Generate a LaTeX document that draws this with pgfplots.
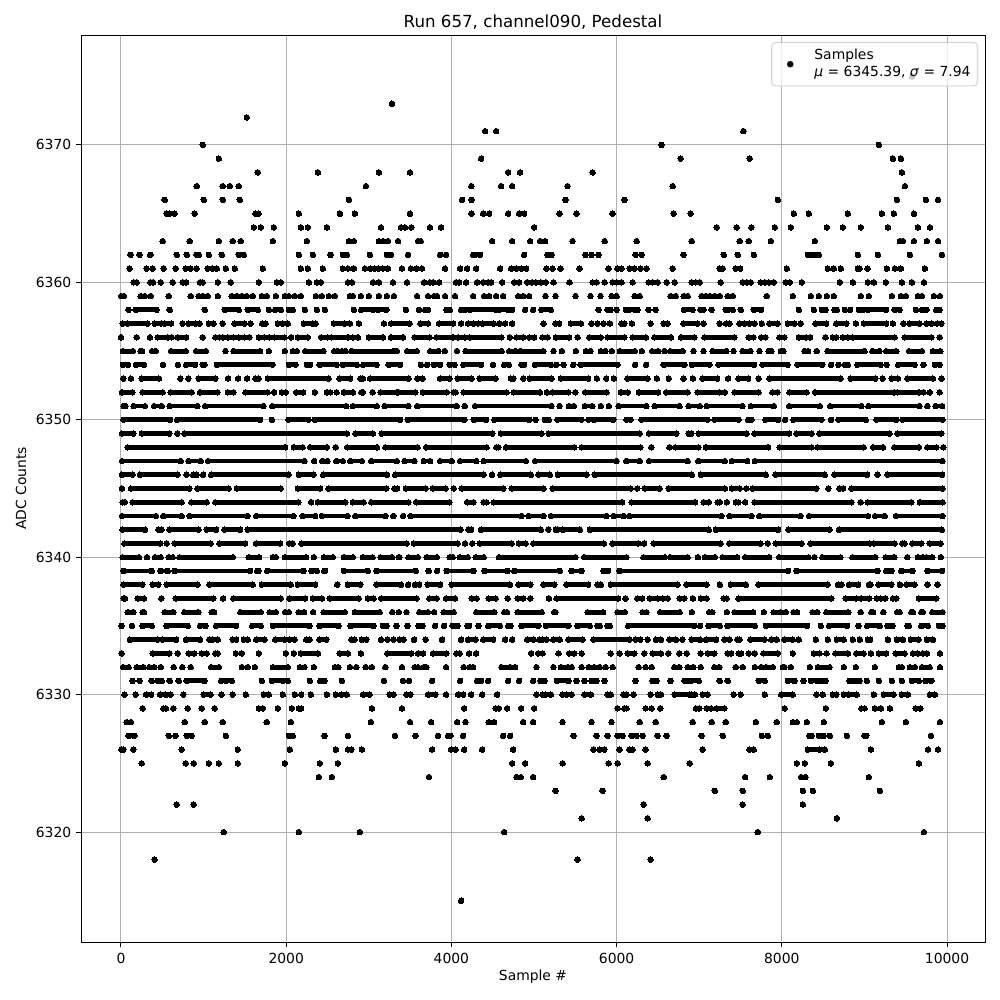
\documentclass[border=0pt]{standalone}
\usepackage{pgfplots}
\pgfplotsset{compat=1.18}
\usepackage{fontspec}
\setmainfont{DejaVu Sans}
\definecolor{gridc}{HTML}{B0B0B0}
\pgfplotsset{pt/.style={black,line width=3.5pt,line cap=round,mark=*,mark size=2pt,mark options={solid,line width=0pt,fill=black,draw=black},unbounded coords=jump}}
\newcommand\R[2]{\gdef\rowc{}\foreach \xa/\xb in {#2}{\xdef\rowc{\rowc(\xa,#1)(\xb,#1)(\xb,nan)}}\edef\tmp{\noexpand\addplot[pt,forget plot] coordinates {\rowc};}\tmp}
\begin{document}
\begin{tikzpicture}
\useasboundingbox (-58.32pt,-41.76pt) rectangle (661.68pt,678.24pt);
\begin{axis}[
  at={(0,0)},anchor=south west,
  scale only axis,width=650.88pt,height=653.04pt,
  xmin=-484,xmax=10460,ymin=6312,ymax=6378,
  xtick={0,2000,4000,6000,8000,10000},
  ytick={6320,6330,6340,6350,6360,6370},
  scaled x ticks=false,scaled y ticks=false,
  xtick pos=bottom,ytick pos=left,tick align=outside,
  major tick length=3.5pt,
  tick style={black,line width=0.7pt},
  axis line style={black,line width=0.7pt},
  grid=major,grid style={gridc,line width=0.7pt},
  /pgf/number format/assume math mode=true,
  /pgf/number format/.cd,1000 sep={},/pgfplots/.cd,
  xticklabel style={yshift=-1pt},
  title={Run 657, channel090, Pedestal},
  every axis title/.style={at={(axis description cs:0.5,1.0143)},anchor=center,font=\fontsize{12}{14}\selectfont},
  xlabel={Sample \#},ylabel={ADC Counts},
  every axis x label/.style={at={(axis description cs:0.5,-0.0386)},anchor=center},
  every axis y label/.style={at={(axis description cs:-0.0664,0.5)},anchor=center,rotate=90},
  legend cell align=left,
  legend image code/.code={\path[draw=none,fill=none] (0pt,0pt) -- (25.7pt,0pt);\fill[black,fill opacity=1] (10.3pt,0pt) circle (2pt);},
  legend style={at={(0.9923,0.9923)},anchor=north east,draw=black!20,line width=0.8pt,rounded corners=2.5pt,fill=white,fill opacity=0.8,draw opacity=0.8,text opacity=1,inner xsep=3pt,inner ysep=2pt},
]
\addplot[only marks,black,mark=*,mark size=2pt,mark options={line width=0pt,fill=black}] coordinates {(9576,6375)};
\addlegendentry{\begin{tabular}{@{}l@{}}Samples\\\textit{μ} = 6345.39, \textit{σ} = 7.94\rule[-18pt]{0pt}{9pt}\end{tabular}}
\R{6373}{3281}
\R{6372}{1523}
\R{6371}{4408,4541,7535}
\R{6370}{990,6545,9176}
\R{6369}{1184,4360,6776,7612,9345,9442}
\R{6368}{1656,2384,3123,3499,4687,4832,5709,9454}
\R{6367}{917,1232,1317,1426,2966,4242,4602,4735,5406,6679,9491}
\R{6366}{529,1002,1232,1438,2760,4129,4242,5382,6097,7952,9394,9745,9891}
\R{6365}{553,586,650,893,1628,1664,2153,2651,2832,3499,4242,4384,4457,4687,4820,4881,5309,5515,5952,6691,6897,8145,8327,8800,9212,9357,9600}
\R{6364}{1608,1693,1850,2178,2262,2493,3148,3390,3438,3515,3741,3875,5002,7212,7454,7632,7915,8109,8545,8739,8957,9285,9648,9794}
\R{6363}{505,832,1184,1353,1450,1838,2250,2760,2820,3123,3172,3232,3354,3596,3628,4493,4735,4953,5075,5135,5467,5855,6242,6909,7491,7600,7867,8400,9430,9467,9600,9757,9891}
\R{6362}{117,226,355,675,796,917,941,1063,1220,1426,1487,2153,2323,2537,2687,2735,3014,3220,3269,3475,3863,3935,4263,4287,4347,4881,5164,5212,5624,5697,5782,6230,6303,6812,7297,7467,7661,8315,8355,8400,8448,8921,9164,9551,9939}
\R{6361}{105,311,384,517,663,784,844,917,1050,1111,1160,1269,1378,1717,2178,2262,2444,2687,2748,2820,2954,3026,3070,3120,3172,3232,3402,3511,3572,3644,3923,4105,4190,4299,4590,4723,4788,4844,4905,5152,5224,5321,5552,5903,6012,6060,6158,6218,6291,6364,6679,7248,7285,7442,7495,8061,8557,8630,8715,8921,8941,9038,9273,9370,9442,9733}
\R{6360}{153,190,355,388,481,626,747,788,957,990,1172,1329,1669,1887,1935,2275,2371,2420,2748,2796,3051,3123,3293,3463,3669,3741,3778,3851,4057,4093,4178,4311,4384,4444,4481,4614,4760,4820,4917,4978,5022,5083,5144,5236,5430,5709,5758,5855,5952,6000,6060,6194,6388,6436,6497,6606,6703,6909,6957,7006,7260,7527,7576,7624,7745,7794,7842,7903,8048,8097,8242,8703,8861,9042,9115,9260,9454,9575,9721}
\R{6359}{4,36,238,287,360,578,844,941,990,1050,1172,1341,1402,1463,1523,1596,1705,1766,1875,1984,2032,2105,2178,2360,2432,2517,2590,2772,2808,2905,3002,3123,3220,3305,3584,3717,3790,3826,3923,4044,4263,4396,4457,4541,4626,4808,4869,4941,5140,5261,5503,5685,5806,5939,6000,6218,6279,6654,6715,6812,6860,7030,7079,7127,7188,7248,7345,7406,7818,8133,8351,8448,8545,8630,8957,9054,9333,9442,9503,9648,9697,9842,9915}
\R{6358}{93,178/432,590,1014,1256/1426,1535/1656,1790,1866,1935,2032/2080,2226,2371,2469,2820,2909/3051,3111/3212,3450,3608,3681/3717,3940/3980,4117/4166,4230/4545,4578/4687,4735,4893,4990,5090/5204,5782,5891/5927,6000,6113/6153,6218/6255,6388,6473,6816/6921,7018/7050,7151,7321/7345,7406,7503,7660/7750,8206,8388,8485/8530,8638/8667,8764,8828,8933/8982,9042/9264,9365/9426,9624,9697/9750,9870/9911}
\R{6357}{20,80/323,408/485,525/606,747,820/900,953,1063/1119,1232,1373/1495,1567,1709/1749,1899,1960/2020,2214/2323,2355,2578/2707,2772,2881,3184,3269/3495,3624/3717,3851/4020,4117,4202,4263/4323,4372/4505,4578,4650,4735,5115,5257/5305,5447/5568,5697,5770,5842,5919,6060/6093,6186,6412,6570/6618,6808/6982,7054,7248,7325/7366,7487/7548,7610,7673,7758,7850/7950,8073/8153,8230,8408/8537,8658/8780,8897,8994/9264,9345,9470,9547/9668,9749/9810,9879/9931}
\R{6356}{0,190,351,444/566,614,687/788,990,1143/1192,1232,1293/1361,1426/1495,1555,1669/1737,1798,1858/1980,2060,2141/2262,2424/2500,2546/2748,2808/2869,3000/3172,3269/3414,3556/3737,3818/4020,4081/4162,4222/4606,4707,4788/4869,4941/5002,5103/5164,5265/5426,5527,5669/5810,5891/6093,6194/6355,6457/6659,6780/6941,7063/7426,7600/7657,7750/7802,7972/8032,8206/8295,8343,8529,8618/8659,8739/8800,8860/9366,9487/9810,9911}
\R{6355}{24/145,238/255,376/420,606/784,909/1026,1265,1361/1685,1790,1984,2081/2129,2230/2452,2580/2620,2675/2720,2790/3297,3315/3340,3464/3581,3742/3843,3919,4068,4173/4608,4701/4778,4838/5112,5237,5338,5507,5628/5685,5810/5866,5942,6039/6221,6305,6432/6503,6579,6650/6800,6932,7053,7162/7331,7416,7525/7621,7730,7840/7875,7988/8020,8274/8318,8423,8552/9003,9096/9181,9265/9386,9540/9697,9829/9918}
\R{6354}{24/85,182/279,509,690,788/897,990/1010,1160/1834,2032/2113,2250/2290,2404/2610,2687/2856,2933/3095,3240/3380,3630,3706,3786/3863,3980/4040,4145/4360,4504,4640/4697,4850/4880,5012/5205,5270,5358,5475,5564/6011,6224,6358,6570/6820,6912/7125,7234/7665,7766/8070,8190/8490,8596,8685,8765/8800,8915/9197,9270,9410/9608,9713,9854/9910}
\R{6353}{28,121,250/460,719,816,941/1143,1297,1418,1527,1628/1665,1778/2513,2646/2775,2897/2929,3015/3480,3590/3650,3863/3980,4077/4246,4343/4536,4721/4750,4870,4947/5213,5326/5656,5761,5874,5967,6132/6374,6487,6632,6810,6924,7040/7218,7350,7476/7593,7720,7851/8713,8834/9132,9221,9330/9406,9520/9830,9934}
\R{6352}{12/137,262/505,602/856,957/1168,1293/1361,1507/1774,1854,1947/1996,2121/2206,2347,2493/2533,2610,2699/2808,2909/2929,3046,3143/3340,3363/3565,3654/3944,4028/4052,4149/4669,4754/5072,5157,5225/5415,5500,5620/5878,6052/6136,6270/6503,6600/6860,6980/7245,7310,7430/7718,7887/7948,8093/8300,8403/9360,9400/9660,9717,9793,9910}
\R{6351}{32/56,154/291,400/493,586/925,1018/1725,1830/2727,2808/3099,3190/3480,3585/4064,4161,4286/5213,5310,5423/5483,5616/5705,5810,5906,6023/6361,6460/6763,6872/7008,7090/7525,7625/7903,8089/8460,8585/8963,9048/9668,9762,9862/9942}
\R{6350}{32/594,679/1685,1826,2028/2270,2348/3380,3472/4157,4270/4420,4520/4940,5020,5132/5180,5286/5575,5660,5722/5960,6120,6168,6300/7100,7186/7476,7593/7633,7800/7955,8040,8140/8480,8596,8685/9016,9145/9386,9460/9946}
\R{6349}{12/150,254/586,683,768/2735,2840/3050,3155/4496,4600/5092,5177/6281,6392/6724,6872/6904,6993/7573,7670/8089,8177/8360,8455/9306,9398/9930}
\R{6348}{81/1988,2093/2200,2290/2493,2600,2739/3099,3200/3590,3694/4427,4544/4570,4661/5487,5575/6289,6420,6640,6710/6990,7081/7835,7972/8360,8431/8992,9105/9225,9362/9660,9762/9870,9955}
\R{6347}{12/723,816/966,1054/2222,2339,2436/2500,2606/2687,2775/2917,3030/3340,3432/3553,3666/3742,3863/4004,4105/4302,4391/4903,5012/6000,6116/6281,6392/6860,6988/7311,7396/7581,7674/9946}
\R{6346}{12/141,230/683,792,873/917,994,1091/2028,2153/2331,2448/3220,3320/4387,4492,4592/4963,5056/5193,5290/5636,5735/6910,7020/7806,7924/8520,8640/9032,9160,9280/9942}
\R{6345}{12,121/828,925/1305,1402/1935,2141/2412,2513/3212,3310/3343,3448/3690,3774/3931,4028,4125/4629,4730/5116,5225/6172,6250,6341/6519,6630/7311,7396/7492,7569,7645/8419,8564,8697/8742,8842/9946}
\R{6344}{20/48,141/735,852/1038,1143/2149,2302,2384/2715,2808/2937,3030/3480,3573/3976,4190/4266,4391/4427,4512/6067,6180/6950,7053/7117,7222/7250,7335,7443/7476,7557,7670/8842,8955,9040/9568,9672/9946}
\R{6343}{12/424,513/735,832/1531,1636/2089,2200/2351,2432/2743,2836/3200,3297,3416,3504/4850,4935/5112,5205/5878,5962/6084,6153/7270,7367/7633,7726/8226,8330/9044,9128/9245,9382/9946}
\R{6342}{20/291,452/493,586/937,1038/1151,1252/1442,1535/4113,4206/4238,4359/5084,5173,5265/5280,5350/5556,5677/7117,7202/7956,8081/8580,8693/9938}
\R{6341}{40/473,553,650/1087,1192/1503,1636/1927,2036/2077,2186/3460,3545/4077,4165,4254,4343/4730,4818/4899,4991/5846,5951/6261,6333,6450/7258,7363/7742,7830,7927/8238,8347/9064,9116/9366,9459/9487,9580/9689,9790/9922}
\R{6340}{20/218,315,412/481,578/626,707/1353,1547/1673,1838/1875,1984/2242,2335,2456/2566,2699/2808,2929/3046,3143/3281,3360/3372,3480/3593,3702/3823,3980/4016,4100/4197,4294/4391,4576/5503,5608/6120,6325/6583,6650/6860,6985,7069/7190,7283/7460,7557/7847,7968/8322,8395,8490/8710,8855/9132,9257/9362,9520,9648/9708,9753/9822,9926}
\R{6339}{32/372,481/566,650/1563,1648/1665,1770/2210,2307/2371,2460/2472,2699/2990,3095/3570,3726,3827,3944/4266,4403/4681,4762/5314,5455/5575,5842/5898,6036/8077,8177/9157,9265/9326,9447/9580,9762/9942}
\R{6338}{32/258,384/452,553/925,1071/1596,1705/2056,2141/2351,2618,2747/2897,3095/3390,3476,3560/3610,3714/3863,4004/4709,4814/4955,5116/5245,5394/5656,5769/5810,5930/6736,6848/7089,7250,7383/7565,7718/8552,8681/8722,8814/8923,9056/9076,9169/9326,9430,9507/9608,9765,9886}
\R{6337}{32/48,202/279,489,663/1119,1236,1361/1935,2040/2230,2323/2432,2525/2877,2990/3058,3150/3580,3734/3823,3935/4044,4246/4306,4451/4536,4681,4802/4870,4955,5181,5273/6019,6108,6250/6310,6400/6500,6560/6620,6763/6820,6924,7020/7089,7295/7331,7476/8600,8774/8903,8960/9060,9148,9197/9253,9346/9386,9660/9870}
\R{6336}{81/150,262/279,529/634,768/937,1099/1127,1446/1693,1798/1875,1988/2032,2149/2218,2327,2452/2711,2832/3131,3285,3363,3456,3613/3714,3790,3907/4028,4302/4520,4641/4673,4802/5092,5245/5261,5648/5838,6011/6100,6313/6362,6527/6763,6912,7120/7158,7335,7428/7653,7782,7899/7984,8048,8141/8185,8371/8431,8540/8806,8955,9084/9105,9229,9398/9427,9568/9588,9689/9709,9822/9946}
\R{6335}{8,133,262/372,553/808,957/1022,1151/1394,1588/1693,1838/2283,2404/2634,2779/3058,3171,3215,3337,3468,3601/3650,3802,3911,4016/4072,4197/4214,4330,4447/4588,4689/4717,4850/5052,5144/5415,5528/5676,5769/5797,5890/5918,6140/6940,7012,7113/7250,7343/7674,7806/8306,8472,8572/8790,8927,9035/9185,9278/9338,9520/9540,9689/9769,9902/9946}
\R{6334}{109/444,505/667,788/957,1070/1111,1172,1353/1394,1487/1535,1636/1737,1866/1980,2040/2101,2242/2283,2404/2485,2788/2828,2917/2970,3148,3228,3301,3374/3422,3548,3689,3887,4117,4202/4295,4384/4505,4650,4735,4917/4990,5063/5103,5152,5232/5313,5418/5588,5721/6153,6226,6287,6376,6477/6537,6638/6719,6796,6909/7010,7083/7204,7305/7366,7463,7487,7620/7790,7871/7940,8032/8133,8206,8412,8557,8667/8751,8860,8945,9042/9070,9285,9394/9467,9563/9656,9757/9830}
\R{6333}{8,384/586,687,820/889,978/1038,1143/1172,1390,1463,1669,1996,2093,2178/2384,2647/2748,2905,3224/3515,3596/3657,3778/3939,4060/4100,4214,4299,4966,5050/5103,5297,5426/5487,5576,5927,6036,6133/6214,6335,6436/6537,6626,6760,6848,7018,7103/7184,7345/7386,7479/7507,7600,7673,7778/7952,8133,8388/8456,8541,8650/8800,8901/8990,9079,9176/9264,9377/9487,9588/9648,9709/9757,9915}
\R{6332}{28/93,190/271,343/404,481,638,743,844,1091/1184,1463,1535,1620,1838/2020,2165/2222,2335,2590/2630,2772,2849,2962,3038,3200,3402,3556/3596,3665/3697,3935,4149,4222/4263,4606/4715,4772,5030,5236,5325/5406,5455,5576,5661/5729,5794,5867,5952,6267,6351,6424,6699/6760,6860/6929,7018,7184/7244,7442,7527,7673,7750,7810/7891,8012/8032,8109,8339,8436/8578,8751,8897,9127,9418/9454,9551/9612,9697/9790,9915}
\R{6331}{141,226,372,444/493,590,699,796/1010,1212/1273,1341,1705,1826/1959,2020,2287,2412/2464,2675,3184,3414,3487,3766,4105,4311,4360,4444,4687,4820,4990,5078/5127,5277/5418,5515,5612,5697/5758,5855,6230,6436/6485,6654,6824/6848,6897/6994,7248,7345,7721/7794,8073/8153,8263,8351/8424,8477/8529,8820,8881/8941,9030,9176,9333,9454,9575/9660,9741/9810}
\R{6330}{44,178,303/364,473/545,602,755,1002/1083,1216,1353,1511,1729/1790,1959,2105,2182,2299,2493,2602,2671/2735,2930/3010,3253/3301,3455/3503,3717/3806,3935,4081,4141,4238,4372,4553,5030,5103/5144,5204,5346,5394,5455,5608/5689,5891/5931,6081/6121,6206,6412,6497/6537,6703/6881,6909/6949,7042/7103,7418,7503,7794,7992/8133,8420,8497,8618/8659,8751,8812/8909,9115,9236/9353,9454/9527,9794/9854}
\R{6329}{263,513/545,634,808,978,1135,1669/1717,1899,2068,2153/2182,3038,3402,4154,4537/4574,4675,4844,5002,6012,6093/6121,6351,6424,6529,6961/7002,7091/7143,7212/7305,8036,8533,8962/9002,9127,9200,9309,9620/9677}
\R{6328}{69/121,772,1014,1232,1765,2056,3026,3499,3754,4069,4170,4452/4517,4869,4990,5346,5697,5939,6279,6473,6921,7151,7321,7685,7939,8133/8182,8303,8509,9212,9503,9915}
\R{6327}{93/162,578,659,796/856,1269,2032/2080,2464,2748,3317,3564,3838,3960/3988,4141,4626,4711,5479,5758,5891,6012/6073,6182,6242,6315,6497,6606,7030,7285,7758,7830,8335/8360,8448/8505,8582,8788,9002/9022,9806}
\R{6326}{4/28,149,735,1414,2044,2602,2748/2788,2917,3766,3996/4053,4154,4372,4747,5721,5798/5851,6036,6153/6194,6351,7042,7608/7661,8315/8456,8521,9079,9770,9891}
\R{6325}{250,784,881,1063,1184,1414,1984,2408,2626,4735,4893,5346,5903,6012,6376,6885,8182,8279,8594,9660}
\R{6324}{2396,2554,3729,4788/4840,4990,6570,7555,7855,8234/8287,9054}
\R{6323}{5261,5830,7188,7527,8255,8376,9188}
\R{6322}{675,881,6327,7527,8255}
\R{6321}{5576,6376,8667}
\R{6320}{1244,2153,2893,4638,7709,9721}
\R{6318}{408,5527,6412}
\R{6315}{4117}
\end{axis}
\end{tikzpicture}
\end{document}
